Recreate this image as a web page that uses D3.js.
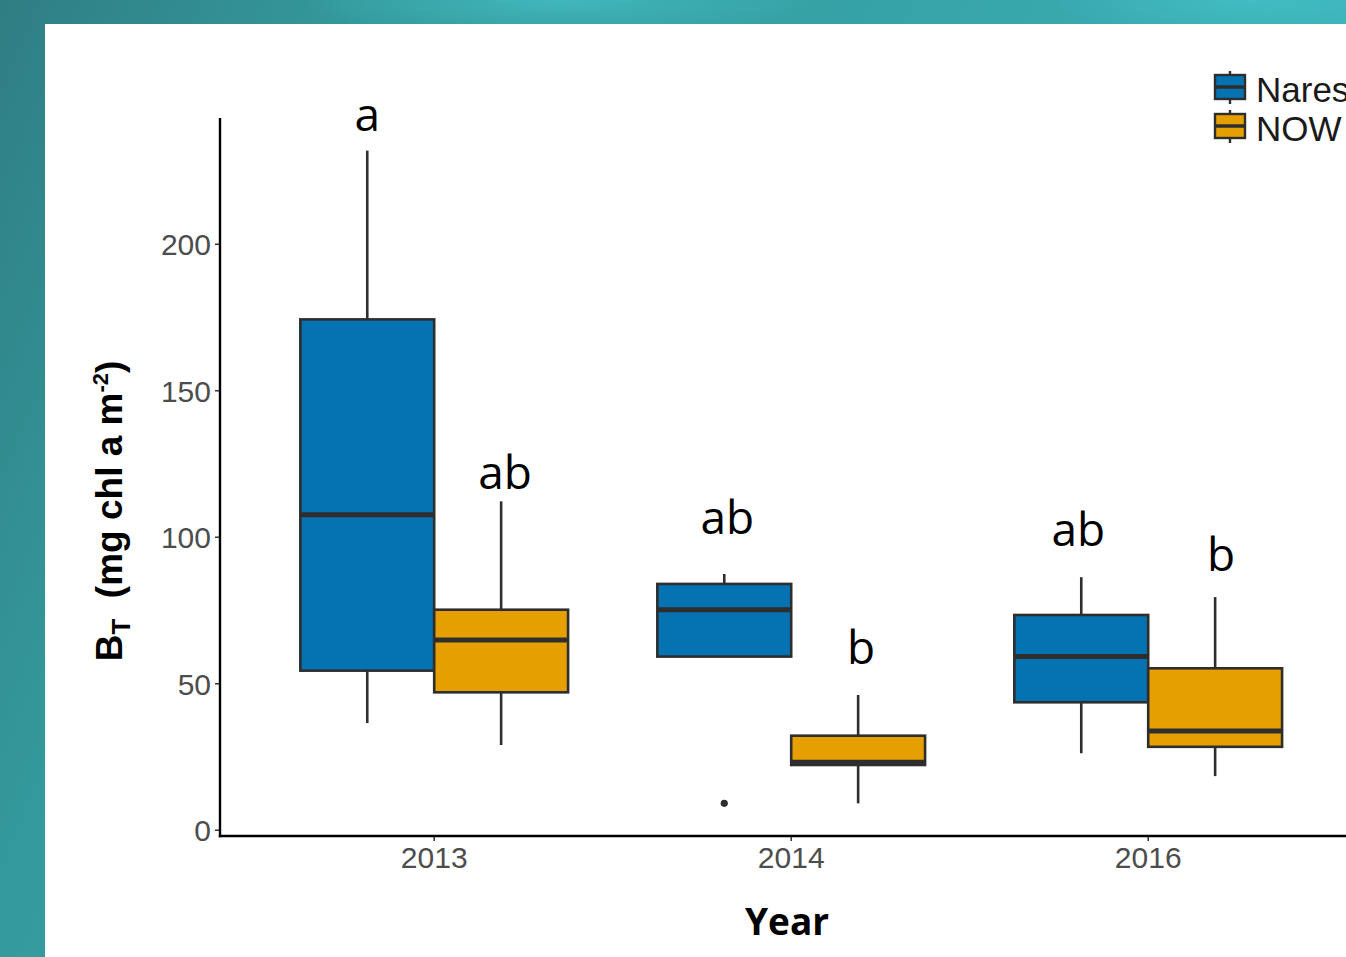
<!DOCTYPE html>
<html>
<head>
<meta charset="utf-8">
<script src="https://cdn.jsdelivr.net/npm/d3@7"></script>
<style>
  html, body { margin: 0; padding: 0; background: #fff; overflow: hidden; }
  svg { display: block; }
</style>
</head>
<body>
<svg id="chart" width="1346" height="957"></svg>
<script>
// Total biomass by year and region (box-plot summaries)
const years = ["2013", "2014", "2016"];
const groups = ["Nares", "NOW"];

const naresMin    = [36.4, 59.1, 26.1];
const naresQ1     = [54.3, 59.1, 43.5];
const naresMedian = [107.5, 75.1, 59.1];
const naresQ3     = [174.2, 83.9, 73.3];
const naresMax    = [231.8, 87.3, 86.2];

const nowMin    = [28.9, 9.0, 18.3];
const nowQ1     = [46.9, 22.1, 28.3];
const nowMedian = [64.8, 23.0, 33.7];
const nowQ3     = [75.1, 32.1, 55.1];
const nowMax    = [112.1, 46.0, 79.4];

const outlierYears  = ["2014"];
const outlierGroups = ["Nares"];
const outlierValues = [9.0];

// Significance letters and the height (in data units) at which each sits
const letterYears  = ["2013", "2013", "2014", "2014", "2016", "2016"];
const letterGroups = ["Nares", "NOW", "Nares", "NOW", "Nares", "NOW"];
const letterText   = ["a", "ab", "ab", "b", "ab", "b"];
const letterValues = [238.6, 116.4, 100.9, 56.6, 96.9, 88.2];
const letterNudge  = [0, 4, 3, 3, -3, 6];

const yTicks = [0, 50, 100, 150, 200];
const colors = { Nares: "#0572b2", NOW: "#e69f00" };

const svg = d3.select("#chart");
const W = 1346, H = 957;

// Teal backdrop
const defs = svg.append("defs");
const bg = defs.append("linearGradient").attr("id", "bg")
  .attr("x1", "0").attr("y1", "0").attr("x2", "1").attr("y2", "0.3");
bg.append("stop").attr("offset", "0").attr("stop-color", "#2f7e84");
bg.append("stop").attr("offset", "0.25").attr("stop-color", "#34999c");
bg.append("stop").attr("offset", "0.6").attr("stop-color", "#36a3a8");
bg.append("stop").attr("offset", "1").attr("stop-color", "#3db3ba");
svg.append("rect").attr("width", W).attr("height", H).attr("fill", "url(#bg)");
const glow = defs.append("radialGradient").attr("id", "glow");
glow.append("stop").attr("offset", "0").attr("stop-color", "#45c3c8").attr("stop-opacity", 0.7);
glow.append("stop").attr("offset", "1").attr("stop-color", "#45c3c8").attr("stop-opacity", 0);
svg.append("ellipse").attr("cx", 560).attr("cy", 0).attr("rx", 260).attr("ry", 40).attr("fill", "url(#glow)");
svg.append("ellipse").attr("cx", 1250).attr("cy", 0).attr("rx", 200).attr("ry", 40).attr("fill", "url(#glow)");

// White panel
svg.append("rect").attr("x", 45).attr("y", 24).attr("width", W - 45).attr("height", H - 24).attr("fill", "#ffffff");

// Scales
const plotLeft = 220, plotBottom = 836, plotTop = 118;
const step = 357;
const x = d3.scaleBand().domain(years)
  .range([plotLeft, plotLeft + 3.2 * step])
  .paddingInner(0.25).paddingOuter(0.225);
const xg = d3.scaleBand().domain(groups).range([0, x.bandwidth()]);

const allVals = naresMin.concat(naresMax, nowMin, nowMax, outlierValues);
const lo = d3.min(allVals), hi = d3.max(allVals), span = hi - lo;
const y = d3.scaleLinear().domain([lo - 0.05 * span, hi + 0.05 * span]).range([plotBottom, plotTop]);

// Boxes
const stats = [];
years.forEach((yr, i) => {
  stats.push({ year: yr, group: "Nares", min: naresMin[i], q1: naresQ1[i], med: naresMedian[i], q3: naresQ3[i], max: naresMax[i] });
  stats.push({ year: yr, group: "NOW", min: nowMin[i], q1: nowQ1[i], med: nowMedian[i], q3: nowQ3[i], max: nowMax[i] });
});

const stroke = "#2e2e2e";
const boxG = svg.append("g");
stats.forEach(d => {
  const x0 = x(d.year) + xg(d.group);
  const bw = xg.bandwidth();
  const cx = x0 + bw / 2;
  const g = boxG.append("g");
  g.append("line").attr("x1", cx).attr("x2", cx).attr("y1", y(d.q3)).attr("y2", y(d.max))
    .attr("stroke", stroke).attr("stroke-width", 2.6);
  g.append("line").attr("x1", cx).attr("x2", cx).attr("y1", y(d.q1)).attr("y2", y(d.min))
    .attr("stroke", stroke).attr("stroke-width", 2.6);
  g.append("rect").attr("x", x0).attr("y", y(d.q3)).attr("width", bw).attr("height", y(d.q1) - y(d.q3))
    .attr("fill", colors[d.group]).attr("stroke", stroke).attr("stroke-width", 2.6);
  g.append("line").attr("x1", x0).attr("x2", x0 + bw).attr("y1", y(d.med)).attr("y2", y(d.med))
    .attr("stroke", stroke).attr("stroke-width", 5);
});

// Outliers
outlierValues.forEach((v, i) => {
  const cx = x(outlierYears[i]) + xg(outlierGroups[i]) + xg.bandwidth() / 2;
  svg.append("circle").attr("cx", cx).attr("cy", y(v)).attr("r", 3.6).attr("fill", stroke);
});

// Significance letters
letterText.forEach((t, i) => {
  const cx = x(letterYears[i]) + xg(letterGroups[i]) + xg.bandwidth() / 2 + letterNudge[i];
  svg.append("text").attr("x", cx).attr("y", y(letterValues[i]))
    .attr("text-anchor", "middle")
    .attr("font-family", "'Open Sans', 'Noto Sans', sans-serif")
    .attr("font-size", 46).attr("fill", "#000")
    .text(t);
});

// Axes
const yAxis = svg.append("g").attr("transform", `translate(${plotLeft},0)`)
  .call(d3.axisLeft(y).tickValues(yTicks).tickSize(5).tickPadding(4));
const xAxis = svg.append("g").attr("transform", `translate(0,${plotBottom})`)
  .call(d3.axisBottom(x).tickSize(5).tickPadding(4));
[yAxis, xAxis].forEach(a => {
  a.select(".domain").remove();
  a.selectAll(".tick line").attr("stroke", "#333").attr("stroke-width", 1.5);
  a.selectAll(".tick text").attr("fill", "#4d4d4d")
    .attr("font-family", "'Liberation Sans', Arial, sans-serif").attr("font-size", 30);
});
yAxis.selectAll(".tick text").attr("dy", "0.36em");
xAxis.selectAll(".tick text").attr("dy", "0.76em");

svg.append("line").attr("x1", plotLeft).attr("x2", plotLeft).attr("y1", plotTop).attr("y2", plotBottom + 1.2)
  .attr("stroke", "#000").attr("stroke-width", 2.4);
svg.append("line").attr("x1", plotLeft - 1.2).attr("x2", W).attr("y1", plotBottom).attr("y2", plotBottom)
  .attr("stroke", "#000").attr("stroke-width", 2.4);

// Axis titles
svg.append("text").attr("x", 787).attr("y", 935).attr("text-anchor", "middle")
  .attr("font-family", "'Open Sans', 'Noto Sans', sans-serif").attr("font-weight", "bold")
  .attr("font-size", 37).attr("fill", "#000").text("Year");

const yt = svg.append("text")
  .attr("transform", "translate(122,511) rotate(-90)")
  .attr("text-anchor", "middle")
  .attr("font-family", "'Liberation Sans', Arial, sans-serif").attr("font-weight", "bold")
  .attr("font-size", 37).attr("fill", "#000");
yt.append("tspan").text("B");
yt.append("tspan").attr("font-size", 26).attr("dy", 8).text("T");
yt.append("tspan").attr("dy", -8).text("\u00a0 (mg chl a m");
yt.append("tspan").attr("font-size", 22).attr("dy", -14).text("-2");
yt.append("tspan").attr("dy", 14).text(")");

// Legend
const legend = svg.append("g");
groups.forEach((gname, i) => {
  const ly = 71 + i * 39;
  const lx = 1215;
  legend.append("line").attr("x1", lx + 15).attr("x2", lx + 15).attr("y1", ly).attr("y2", ly + 33)
    .attr("stroke", stroke).attr("stroke-width", 2.4);
  legend.append("rect").attr("x", lx).attr("y", ly + 4).attr("width", 30).attr("height", 24)
    .attr("fill", colors[gname]).attr("stroke", stroke).attr("stroke-width", 2.4);
  legend.append("line").attr("x1", lx).attr("x2", lx + 30).attr("y1", ly + 16).attr("y2", ly + 16)
    .attr("stroke", stroke).attr("stroke-width", 3.5);
  legend.append("text").attr("x", 1256).attr("y", ly + 31)
    .attr("font-family", "'Liberation Sans', Arial, sans-serif").attr("font-size", 35)
    .attr("fill", "#1a1a1a").text(gname);
});
</script>
</body>
</html>
